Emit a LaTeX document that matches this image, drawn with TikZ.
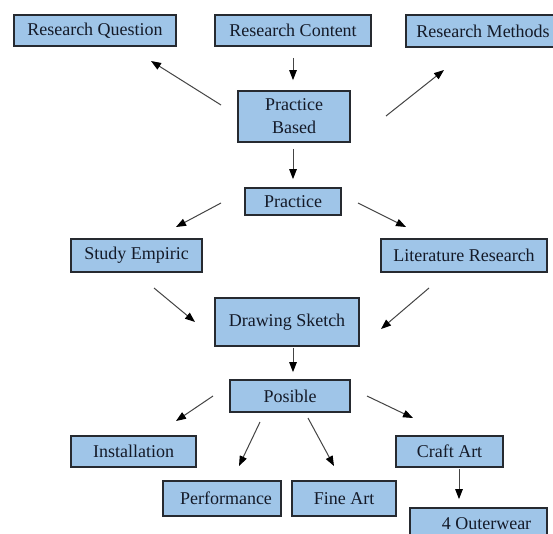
\documentclass[tikz,border=0pt]{standalone}
\usepackage{fontspec}
\setmainfont{Liberation Serif}
\usetikzlibrary{arrows.meta}
\definecolor{boxfill}{HTML}{9FC5E8}
\definecolor{boxline}{HTML}{262A30}
\definecolor{txt}{HTML}{141A28}
\definecolor{arrline}{HTML}{444444}
\tikzset{
  box/.style={draw=boxline, line width=1.7pt, fill=boxfill, text=txt,
    inner sep=0pt, align=center, font=\fontsize{18}{23}\selectfont},
  arr/.style={draw=arrline, line width=1pt,
    -{Triangle[length=10pt,width=7.5pt,fill=black,color=black]}}
}
\begin{document}
\begin{tikzpicture}[x=1pt,y=-1pt]
\useasboundingbox (0,0) rectangle (553,533);
\clip (0,0) rectangle (553,533);
\fill[white] (0,0) rectangle (553,533);
% boxes
\node[box, minimum width=162pt, minimum height=31pt] (rq) at (95,30.5) {Research Question};
\node[box, minimum width=156pt, minimum height=31pt] (rc) at (293,30.5) {Research Content};
\node[box, minimum width=154pt, minimum height=32pt] (rm) at (483,31) {Research Methods};
\node[box, minimum width=112pt, minimum height=51pt] (pb) at (294,116.5) {Practice\\Based};
\node[box, minimum width=96pt, minimum height=27pt] (pr) at (293,201.5) {Practice};
\node[box, minimum width=131pt, minimum height=33pt] (se) at (136.5,255.5) {Study Empiric};
\node[box, minimum width=166pt, minimum height=33pt] (lr) at (464,255.5) {Literature Research};
\node[box, minimum width=144pt, minimum height=48pt] (ds) at (287,322) {Drawing Sketch};
\node[box, minimum width=120pt, minimum height=32pt] (po) at (290,396) {Posible};
\node[box, minimum width=125pt, minimum height=31pt] (in) at (133.5,451.5) {Installation};
\node[box, minimum width=118pt, minimum height=35pt] (pe) at (222,498.5) {\hspace*{8pt}Performance};
\node[box, minimum width=104pt, minimum height=35pt] (fa) at (344,498.5) {Fine Art};
\node[box, minimum width=107pt, minimum height=31pt] (ca) at (449.5,451.5) {Craft Art};
\node[box, minimum width=137pt, minimum height=32pt] (ow) at (478.5,524) {\hspace*{16pt}4 Outerwear};
% free arrow ends
\coordinate (a1s) at (221,105); \coordinate (a1e) at (151,61);
\coordinate (a3s) at (386,116); \coordinate (a3e) at (444,70);
\coordinate (a5s) at (221,203); \coordinate (a5e) at (176,227);
\coordinate (a6s) at (358,203); \coordinate (a6e) at (406,227);
\coordinate (a7s) at (154,288); \coordinate (a7e) at (195,322);
\coordinate (a8s) at (429,288); \coordinate (a8e) at (381,329);
\coordinate (a10s) at (213,396); \coordinate (a10e) at (176,421);
\coordinate (a11s) at (260,422); \coordinate (a11e) at (239,466);
\coordinate (a12s) at (308,418); \coordinate (a12e) at (334,466);
\coordinate (a13s) at (367,396); \coordinate (a13e) at (413,418);
% connectors
\draw[arr] (a1s) -- (a1e);
\draw[arr, shorten <=11pt, shorten >=10pt] (rc.south) -- (rc.south |- pb.north);
\draw[arr] (a3s) -- (a3e);
\draw[arr, shorten <=6pt, shorten >=8pt] (pb.south -| rc.south) -- (rc.south |- pr.north);
\draw[arr] (a5s) -- (a5e);
\draw[arr] (a6s) -- (a6e);
\draw[arr] (a7s) -- (a7e);
\draw[arr] (a8s) -- (a8e);
\draw[arr, shorten <=1pt, shorten >=7pt] (ds.south -| rc.south) -- (rc.south |- po.north);
\draw[arr] (a10s) -- (a10e);
\draw[arr] (a11s) -- (a11e);
\draw[arr] (a12s) -- (a12e);
\draw[arr] (a13s) -- (a13e);
\draw[arr, shorten <=1pt, shorten >=8pt] ([xshift=9.5pt]ca.south) -- ([xshift=9.5pt]ca.south |- ow.north);
\end{tikzpicture}
\end{document}
